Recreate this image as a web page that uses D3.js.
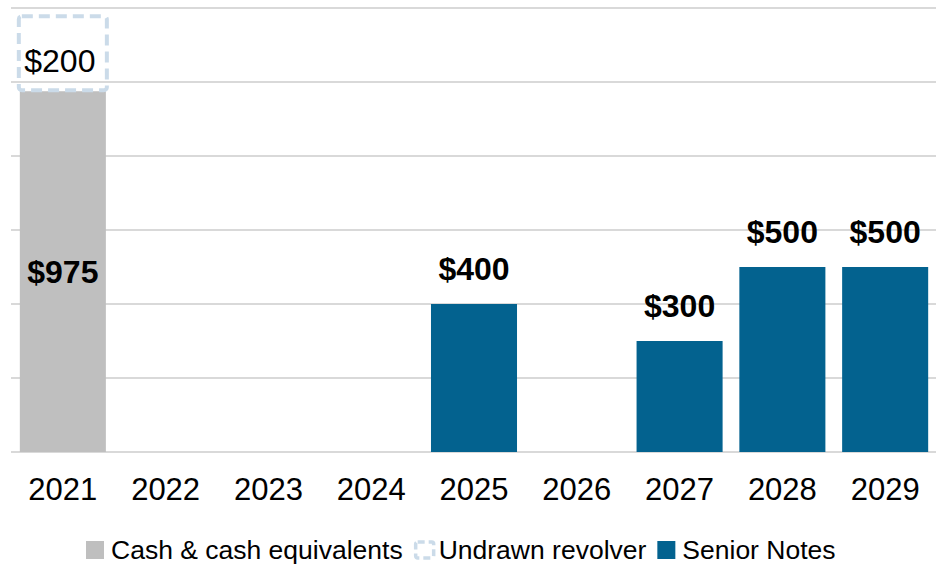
<!DOCTYPE html>
<html>
<head>
<meta charset="utf-8">
<script src="https://cdn.jsdelivr.net/npm/d3@7"></script>
<style>
  body { margin: 0; background: #fff; }
  text { font-family: "Liberation Sans", Arial, sans-serif; fill: #000; }
</style>
</head>
<body>
<script>
// maturity years and amounts ($M)
var years = ["2021", "2022", "2023", "2024", "2025", "2026", "2027", "2028", "2029"];
var cash = [975, 0, 0, 0, 0, 0, 0, 0, 0];
var revolver = [200, 0, 0, 0, 0, 0, 0, 0, 0];
var notes = [0, 0, 0, 0, 400, 0, 300, 500, 500];
var yTicks = [0, 200, 400, 600, 800, 1000, 1200];

var legendItems = [
  {name: "Cash & cash equivalents", key: "cash"},
  {name: "Undrawn revolver", key: "revolver"},
  {name: "Senior Notes", key: "notes"}
];

var colors = {cash: "#bfbfbf", revolver: "#cbdbe9", notes: "#03628f"};

var width = 941, height = 564;

var x = d3.scaleBand().domain(years).range([11.6, 936.4]).paddingInner(0.163).paddingOuter(0.08);
var y = d3.scaleLinear().domain([0, 1200]).range([452, 8]);

var svg = d3.select("body").append("svg")
    .attr("width", width)
    .attr("height", height);

// gridlines
svg.append("g").selectAll("line")
    .data(yTicks)
  .enter().append("line")
    .attr("x1", 11)
    .attr("x2", 936)
    .attr("y1", function(d) { return y(d); })
    .attr("y2", function(d) { return y(d); })
    .attr("stroke", "#d9d9d9")
    .attr("stroke-width", 2);

// cash bars
svg.append("g").selectAll("rect")
    .data(years.filter(function(d, i) { return cash[i] > 0; }))
  .enter().append("rect")
    .attr("x", function(d) { return x(d); })
    .attr("width", x.bandwidth())
    .attr("y", function(d) { return y(cash[years.indexOf(d)]); })
    .attr("height", function(d) { return y(0) - y(cash[years.indexOf(d)]); })
    .attr("fill", colors.cash);

// undrawn revolver stacked on cash, dashed outline
svg.append("g").selectAll("rect")
    .data(years.filter(function(d, i) { return revolver[i] > 0; }))
  .enter().append("rect")
    .attr("x", function(d) { return x(d) - 1; })
    .attr("width", x.bandwidth() + 2)
    .attr("y", function(d) { var i = years.indexOf(d); return y(cash[i] + revolver[i]) - 1; })
    .attr("height", function(d) { var i = years.indexOf(d); return y(cash[i]) - y(cash[i] + revolver[i]); })
    .attr("rx", 3)
    .attr("fill", "none")
    .attr("stroke", colors.revolver)
    .attr("stroke-width", 4)
    .attr("stroke-dasharray", "11,6");

// senior notes bars
svg.append("g").selectAll("rect")
    .data(years.filter(function(d, i) { return notes[i] > 0; }))
  .enter().append("rect")
    .attr("x", function(d) { return x(d); })
    .attr("width", x.bandwidth())
    .attr("y", function(d) { return y(notes[years.indexOf(d)]); })
    .attr("height", function(d) { return y(0) - y(notes[years.indexOf(d)]); })
    .attr("fill", colors.notes);

// labels
var labels = svg.append("g");

years.forEach(function(d, i) {
  var cx = x(d) + x.bandwidth() / 2;
  if (cash[i] > 0) {
    labels.append("text")
        .attr("x", cx)
        .attr("y", (y(0) + y(cash[i])) / 2)
        .attr("dy", "0.35em")
        .attr("text-anchor", "middle")
        .style("font-size", "32px")
        .style("font-weight", "bold")
        .text("$" + cash[i]);
  }
  if (revolver[i] > 0) {
    labels.append("text")
        .attr("x", cx - 3)
        .attr("y", (y(cash[i]) + y(cash[i] + revolver[i])) / 2 + 7)
        .attr("dy", "0.35em")
        .attr("text-anchor", "middle")
        .style("font-size", "32px")
        .text("$" + revolver[i]);
  }
  if (notes[i] > 0) {
    labels.append("text")
        .attr("x", cx)
        .attr("y", y(notes[i]) - 24)
        .attr("text-anchor", "middle")
        .style("font-size", "32px")
        .style("font-weight", "bold")
        .text("$" + notes[i]);
  }
});

// x axis labels
svg.append("g").selectAll("text")
    .data(years)
  .enter().append("text")
    .attr("x", function(d) { return x(d) + x.bandwidth() / 2; })
    .attr("y", 500)
    .attr("text-anchor", "middle")
    .style("font-size", "31px")
    .text(function(d) { return d; });

// legend
var legend = svg.append("g").attr("transform", "translate(0,559)");
var lx = 86;
legendItems.forEach(function(item) {
  var g = legend.append("g").attr("transform", "translate(" + lx + ",0)");
  if (item.key === "revolver") {
    g.append("rect")
        .attr("x", 2).attr("y", -17).attr("width", 18).attr("height", 16)
        .attr("rx", 2)
        .attr("fill", "none")
        .attr("stroke", colors.revolver)
        .attr("stroke-width", 3.5)
        .attr("stroke-dasharray", "7,4");
  } else {
    g.append("rect")
        .attr("x", 0).attr("y", -18).attr("width", 18).attr("height", 18)
        .attr("fill", colors[item.key]);
  }
  var t = g.append("text")
      .attr("x", 25)
      .attr("y", 0)
      .style("font-size", "26.5px")
      .text(item.name);
  lx += 25 + t.node().getComputedTextLength() + 11;
});
</script>
</body>
</html>
